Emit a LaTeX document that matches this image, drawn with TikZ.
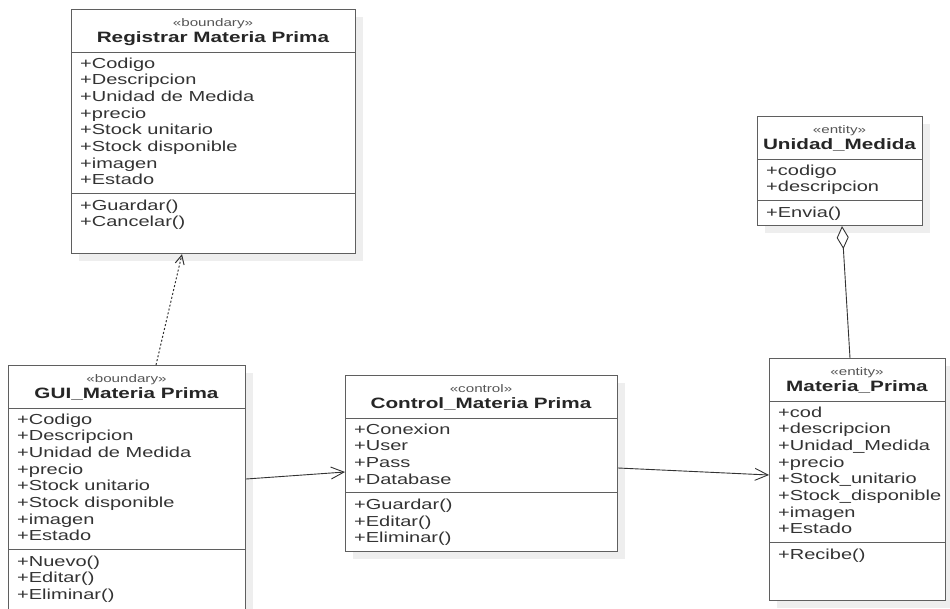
\documentclass[tikz,border=0pt]{standalone}
\usepackage{fontspec}
\setmainfont{Liberation Sans}[FakeStretch=1.38]
\usetikzlibrary{arrows.meta}
\definecolor{linec}{HTML}{5F5F5F}
\definecolor{txtc}{HTML}{333333}
\definecolor{stc}{HTML}{555555}
\definecolor{shc}{HTML}{EEEEEE}
\tikzset{
  classbox/.style={draw=linec, line width=1.1pt, fill=white, rectangle, inner sep=0pt, anchor=north west},
  shadowbox/.style={fill=shc, draw=none, rectangle, inner sep=0pt, anchor=north west},
  divider/.style={draw=linec, line width=1pt},
  attr/.style={anchor=base west, inner sep=0pt, text=txtc, font=\fontsize{14.5}{16}\selectfont},
  stereo/.style={anchor=base, inner sep=0pt, text=stc, font=\fontsize{11}{13}\selectfont},
  ctitle/.style={anchor=base, inner sep=0pt, text=black!85, font=\fontsize{15}{17}\selectfont\bfseries},
  assoc/.style={draw=black!80, line width=0.9pt, -{Straight Barb[length=13pt,width=12pt]}},
  depend/.style={draw=black!80, line width=1pt, dash pattern=on 2pt off 2pt, -{Straight Barb[length=9pt,width=9pt]}},
  aggr/.style={draw=black!80, line width=0.9pt, -{Diamond[open,length=23pt,width=12pt,fill=white]}},
}
% #1 name, #2 x, #3 y (top-left), #4 width, #5 height, #6 stereotype, #7 title, #8 attributes, #9 operations
\newcommand\umlclass[9]{%
  \node[shadowbox, minimum width=#4pt, minimum height=#5pt] (#1-sh) at (#2+8,#3+8) {};
  \node[classbox, minimum width=#4pt, minimum height=#5pt] (#1) at (#2,#3) {};
  \node[stereo] (#1-s) at (#2+#4/2, #3+17) {«#6»};
  \node[ctitle] (#1-t) at (#2+#4/2, #3+33) {#7};
  \draw[divider] (#2, #3+43) -- (#2+#4, #3+43);
  \foreach \a [count=\i] in {#8} {\node[attr] (#1-a\i) at (#2+9, #3+59+16.7*\i-16.7) {\a}; \xdef\lastattr{\i}}
  \pgfmathsetmacro\dy{#3+59+16.7*(\lastattr-1)+8.5}
  \draw[divider] (#2,\dy) -- (#2+#4,\dy);
  \foreach \o [count=\i] in {#9} {\node[attr] (#1-o\i) at (#2+9, \dy+17+16.5*\i-16.5) {\o};}
}
\begin{document}
\begin{tikzpicture}[x=1pt, y=-1pt]
\useasboundingbox (0,0) rectangle (950,608);
\fill[white] (0,0) rectangle (950,608);

\umlclass{reg}{71}{9}{284}{244}{boundary}{Registrar Materia Prima}
  {+Codigo,+Descripcion,+Unidad de Medida,+precio,+Stock unitario,+Stock disponible,+imagen,+Estado}
  {+Guardar(),+Cancelar()}

\umlclass{gui}{8}{365}{237}{250}{boundary}{GUI\_Materia Prima}
  {+Codigo,+Descripcion,+Unidad de Medida,+precio,+Stock unitario,+Stock disponible,+imagen,+Estado}
  {+Nuevo(),+Editar(),+Eliminar()}

\umlclass{ctl}{345}{375}{272}{176}{control}{Control\_Materia Prima}
  {+Conexion,+User,+Pass,+Database}
  {+Guardar(),+Editar(),+Eliminar()}

\umlclass{um}{757}{116}{165}{109}{entity}{Unidad\_Medida}
  {+codigo,+descripcion}
  {+Envia()}

\umlclass{mat}{769}{358}{176}{242}{entity}{Materia\_Prima}
  {+cod,+descripcion,+Unidad\_Medida,+precio,+Stock\_unitario,+Stock\_disponible,+imagen,+Estado}
  {+Recibe()}

% connectors
\coordinate (depS) at ([xshift=148pt]gui.north west);
\coordinate (depE) at ([xshift=111pt]reg.south west);
\draw[depend] (depS) -- (depE);

\coordinate (a1S) at ([yshift=-114pt]gui.north east);
\coordinate (a1E) at ([yshift=-97pt]ctl.north west);
\draw[assoc] (a1S) -- (a1E);

\coordinate (a2S) at ([yshift=-93pt]ctl.north east);
\coordinate (a2E) at ([yshift=-117pt]mat.north west);
\draw[assoc] (a2S) -- (a2E);

\coordinate (agS) at ([xshift=81pt]mat.north west);
\coordinate (agE) at ([xshift=85pt]um.south west);
\draw[aggr] (agS) -- (agE);
\end{tikzpicture}
\end{document}
